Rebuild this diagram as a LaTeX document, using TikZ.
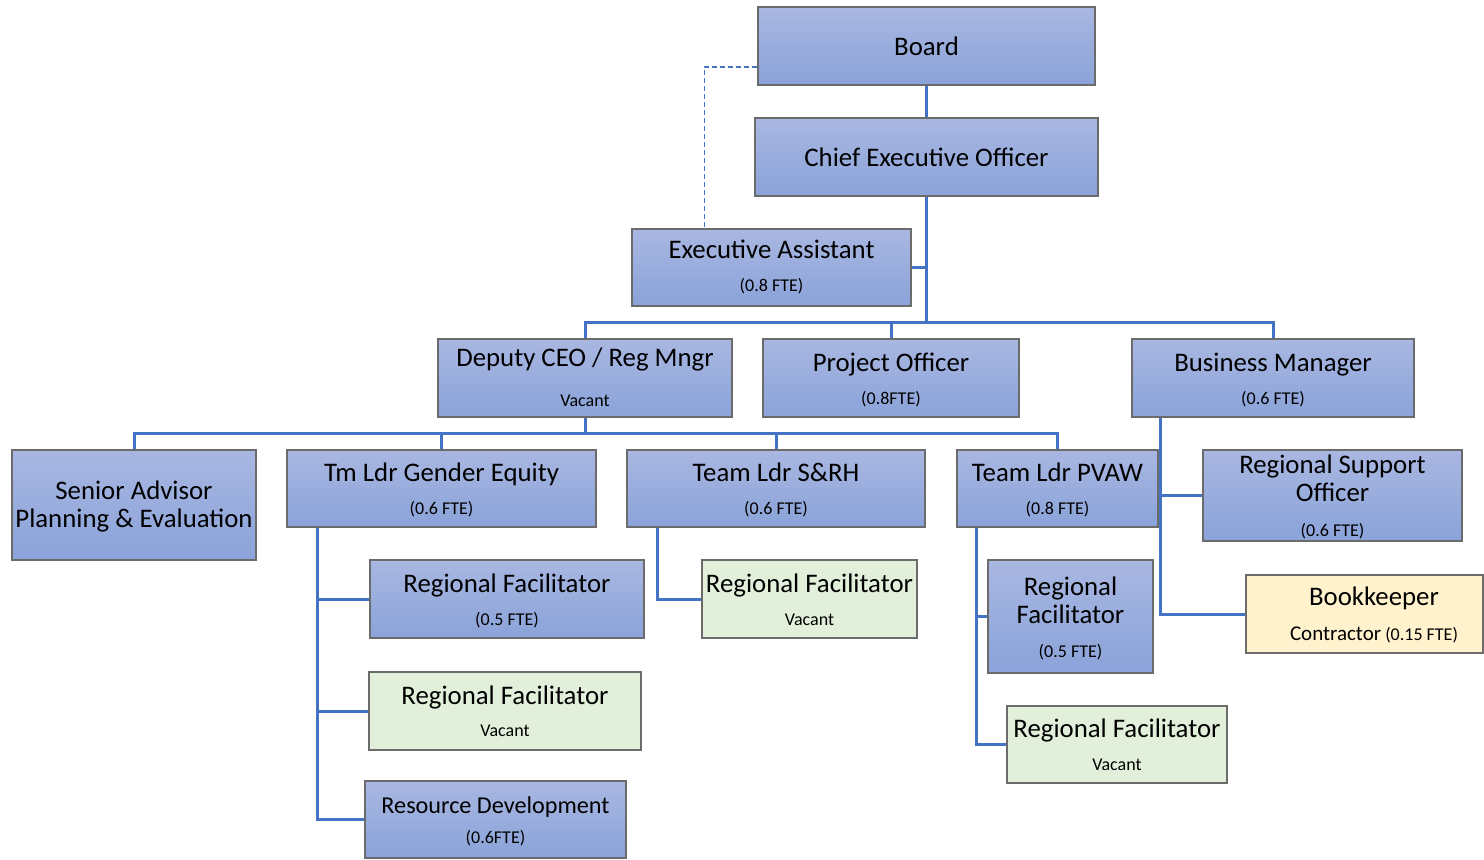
\documentclass[tikz,border=0pt]{standalone}
\usepackage{fontspec}
\setmainfont{Carlito}
\usetikzlibrary{positioning}
\definecolor{edge}{HTML}{6B6B6B}
\definecolor{wire}{HTML}{4472C4}
\definecolor{boxtop}{HTML}{A9B7E1}
\definecolor{boxbot}{HTML}{8AA3D9}
\definecolor{leaf}{HTML}{E2EFDA}
\definecolor{cream}{HTML}{FFF2CC}

\begin{document}
\begin{tikzpicture}[x=0.5pt, y=-0.5pt,
          bx/.style={draw=edge, line width=0.7pt, inner sep=0pt},
          b/.style={bx, top color=boxtop, bottom color=boxbot},
          g/.style={bx, fill=leaf},
          k/.style={bx, fill=cream},
          t/.style={font=\fontsize{13.4}{16}\selectfont, inner sep=0pt, yshift=-1.5pt,
                    text height=0.64em, text depth=0pt},
          s/.style={font=\fontsize{9}{11}\selectfont, inner sep=0pt,
                    text height=0.64em, text depth=0pt},
          ln/.style={draw=wire, line width=1.5pt},
          dl/.style={draw=wire, line width=0.6pt, dash pattern=on 2.5pt off 1.5pt}]
        \useasboundingbox (0,0) rectangle (1484,859);
        % top of the tree
        \node[b, minimum width=168.5pt, minimum height=39pt] (board) at (926.5,46) {};
        \node[t] (board-t) at (926.5,46) {Board};
        \node[b, minimum width=171.5pt, minimum height=39pt] (ceo) at (926.5,157) {};
        \node[t] (ceo-t) at (926.5,157) {Chief Executive Officer};
        \node[b, minimum width=139.5pt, minimum height=38.5pt] (ea) at (771.5,267.5) {};
        \node[t] (ea-t) at (771.5,249) {Executive Assistant};
        \node[s] (ea-s) at (771.5,285) {(0.8 FTE)};
        % second row
        \node[b, minimum width=147pt, minimum height=39pt] (dep) at (585,378) {};
        \node[t] (dep-t) at (585,357) {Deputy CEO / Reg Mngr};
        \node[s] (dep-s) at (585,400) {Vacant};
        \node[b, minimum width=128pt, minimum height=39pt] (po) at (891,378) {};
        \node[t] (po-t) at (891,362) {Project Officer};
        \node[s] (po-s) at (891,398) {(0.8FTE)};
        \node[b, minimum width=141pt, minimum height=39pt] (bm) at (1273,378) {};
        \node[t] (bm-t) at (1273,362) {Business Manager};
        \node[s] (bm-s) at (1273,398) {(0.6 FTE)};
        % third row
        \node[b, minimum width=122pt, minimum height=55pt] (sa) at (134,505) {};
        \node[t] (sa-t) at (134,490) {Senior Advisor};
        \node[t] (sa-u) at (134,518) {Planning \& Evaluation};
        \node[b, minimum width=154.5pt, minimum height=38.5pt] (ge) at (441.5,488.5) {};
        \node[t] (ge-t) at (441.5,472) {Tm Ldr Gender Equity};
        \node[s] (ge-s) at (441.5,508) {(0.6 FTE)};
        \node[b, minimum width=149pt, minimum height=38.5pt] (srh) at (776,488.5) {};
        \node[t] (srh-t) at (776,472) {Team Ldr S\&RH};
        \node[s] (srh-s) at (776,508) {(0.6 FTE)};
        \node[b, minimum width=100.5pt, minimum height=38.5pt] (pvaw) at (1057.5,488.5) {};
        \node[t] (pvaw-t) at (1057.5,472) {Team Ldr PVAW};
        \node[s] (pvaw-s) at (1057.5,508) {(0.8 FTE)};
        \node[b, minimum width=129.5pt, minimum height=45.5pt] (rso) at (1332.5,495.5) {};
        \node[t] (rso-t) at (1332.5,464) {Regional Support};
        \node[t] (rso-u) at (1332.5,492) {Officer};
        \node[s] (rso-s) at (1332.5,530) {(0.6 FTE)};
        \node[k, minimum width=118.5pt, minimum height=39pt] (bk) at (1364.5,614) {};
        \node[t] (bk-t) at (1374,596) {Bookkeeper};
        \node[s] (bk-s) at (1374,634) {{\fontsize{10.5}{12}\selectfont Contractor} (0.15 FTE)};
        % facilitators
        \node[b, minimum width=137pt, minimum height=39pt] (rf1) at (507,599) {};
        \node[t] (rf1-t) at (507,583) {Regional Facilitator};
        \node[s] (rf1-s) at (507,619) {(0.5 FTE)};
        \node[g, minimum width=136pt, minimum height=39pt] (rf2) at (505,711) {};
        \node[t] (rf2-t) at (505,695) {Regional Facilitator};
        \node[s] (rf2-s) at (505,730) {Vacant};
        \node[b, minimum width=130.5pt, minimum height=38.5pt] (rd) at (495.5,819.5) {};
        \node[t, font=\fontsize{12.1}{14}\selectfont] (rd-t) at (495.5,804) {Resource Development};
        \node[s] (rd-s) at (495.5,837) {(0.6FTE)};
        \node[g, minimum width=107.5pt, minimum height=39pt] (rf3) at (809.5,599) {};
        \node[t] (rf3-t) at (809.5,583) {Regional Facilitator};
        \node[s] (rf3-s) at (809.5,619) {Vacant};
        \node[b, minimum width=82.5pt, minimum height=56.5pt] (rf4) at (1070.5,616.5) {};
        \node[t] (rf4-t) at (1070.5,586) {Regional};
        \node[t] (rf4-u) at (1070.5,614) {Facilitator};
        \node[s] (rf4-s) at (1070.5,651) {(0.5 FTE)};
        \node[g, minimum width=110pt, minimum height=38.5pt] (rf5) at (1117,744.5) {};
        \node[t] (rf5-t) at (1117,728) {Regional Facilitator};
        \node[s] (rf5-s) at (1117,764) {Vacant};
        % connectors
        \coordinate (bus1) at (926.5,322);
        \coordinate (bus2) at (585,433);
        \draw[dl] ([yshift=-10.5pt]board.west) -| ([xshift=36.5pt]ea.north west);
        \draw[ln] (board.south) -- (ceo.north);
        \draw[ln] (ceo.south) -- (bus1);
        \draw[ln] (ea.east) -- (ea.east -| ceo.south);
        \draw[ln] (dep.north) |- (bus1) -| (bm.north);
        \draw[ln] (po.north) -- (po.north |- bus1);
        \draw[ln] (dep.south) -- (bus2);
        \draw[ln] (sa.north) |- (bus2) -| (pvaw.north);
        \draw[ln] (ge.north) -- (ge.north |- bus2);
        \draw[ln] (srh.north) -- (srh.north |- bus2);
        \draw[ln] ([xshift=15.5pt]ge.south west) |- (rf1.west);
        \draw[ln] ([xshift=15.5pt]ge.south west) |- (rf2.west);
        \draw[ln] ([xshift=15.5pt]ge.south west) |- (rd.west);
        \draw[ln] ([xshift=15.5pt]srh.south west) |- (rf3.west);
        \draw[ln] ([xshift=10pt]pvaw.south west) |- (rf4.west);
        \draw[ln] ([xshift=10pt]pvaw.south west) |- (rf5.west);
        \draw[ln] ([xshift=14.5pt]bm.south west) |- (rso.west);
        \draw[ln] ([xshift=14.5pt]bm.south west) |- (bk.west);
      \end{tikzpicture}
\end{document}
